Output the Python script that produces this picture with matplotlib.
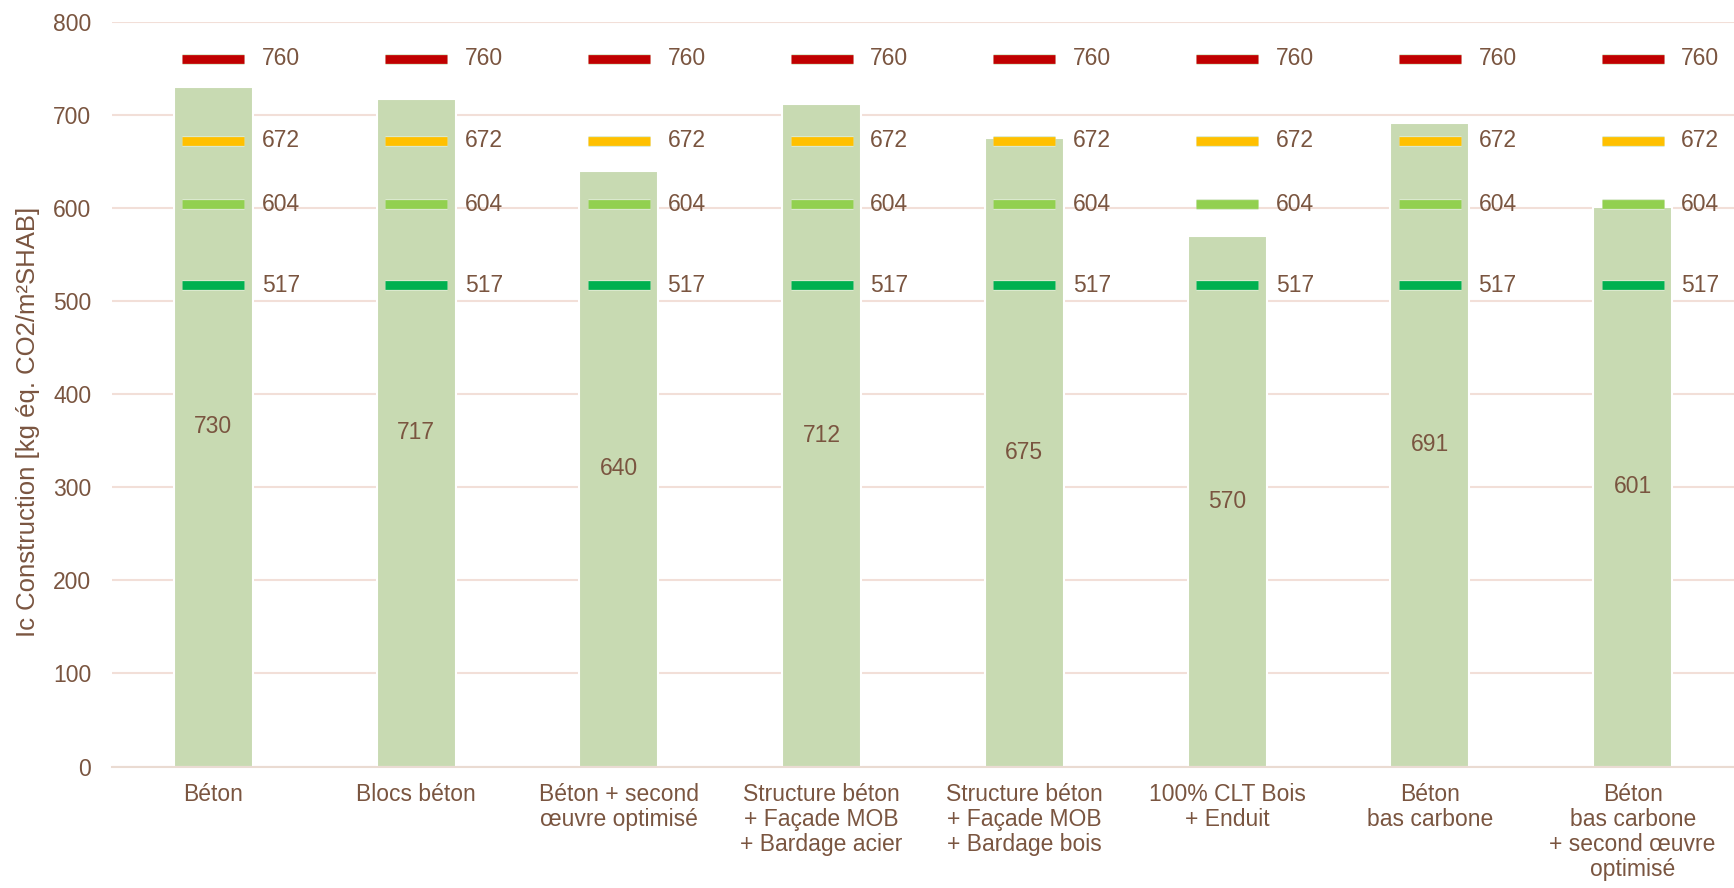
import matplotlib.pyplot as plt
import matplotlib.patheffects as pe
import numpy as np

categories = ['Béton', 'Blocs béton', 'Béton + second\nœuvre optimisé',
              'Structure béton\n+ Façade MOB\n+ Bardage acier',
              'Structure béton\n+ Façade MOB\n+ Bardage bois',
              '100% CLT Bois\n+ Enduit', 'Béton\nbas carbone',
              'Béton\nbas carbone\n+ second œuvre\noptimisé']
ic_values = [730, 717, 640, 712, 675, 570, 691, 601]
thresholds = [760, 672, 604, 517]
threshold_colors = ['#C00000', '#FFC000', '#92D050', '#00B050']

text_color = '#7A5540'
grid_color = '#F2DFD8'

plt.rcParams['font.family'] = ['Liberation Sans', 'DejaVu Sans']

fig = plt.figure(figsize=(17.34, 8.88), dpi=100)
ax = fig.add_axes([0.0646, 0.1368, 0.9354, 0.8388])

x = np.arange(len(categories))
ax.set_axisbelow(True)
ax.grid(True, axis='y', color=grid_color, linewidth=1.5)

ax.bar(x, ic_values, width=0.39, color='#C8DAB2', edgecolor='white', linewidth=1.5, zorder=2)
for xi, v in zip(x, ic_values):
    ax.text(xi, v / 2, str(v), ha='center', va='center', fontsize=16.5, color=text_color, zorder=4)

for t, c in zip(thresholds, threshold_colors):
    ax.hlines([t] * len(x), x - 0.153, x + 0.153, colors=c, linewidth=6.3, zorder=3,
              path_effects=[pe.Stroke(linewidth=7.8, foreground='#DCEBD0'), pe.Normal()])
    for xi in x:
        ax.text(xi + 0.24, t, str(t), ha='left', va='center', fontsize=16.5, color=text_color, zorder=4)

ax.set_xlim(-0.5, len(categories) - 0.5)
ax.set_ylim(0, 800)
ax.set_yticks(np.arange(0, 801, 100))
ax.set_xticks(x, categories)
ax.tick_params(axis='y', length=0, pad=15, labelsize=16.5, labelcolor=text_color)
ax.tick_params(axis='x', length=0, pad=12, labelsize=16.5, labelcolor=text_color)
for lab in ax.get_xticklabels():
    lab.set_linespacing(1.11)

for s in ['top', 'right', 'left']:
    ax.spines[s].set_visible(False)
ax.spines['bottom'].set_color('#EADBD2')
ax.spines['bottom'].set_linewidth(1.5)

ax.set_ylabel('Ic Construction [kg éq. CO2/m²SHAB]', fontsize=18.5, color=text_color)
ax.yaxis.set_label_coords(-0.0444, 0.4625)

fig.savefig('out.png', dpi=100)
